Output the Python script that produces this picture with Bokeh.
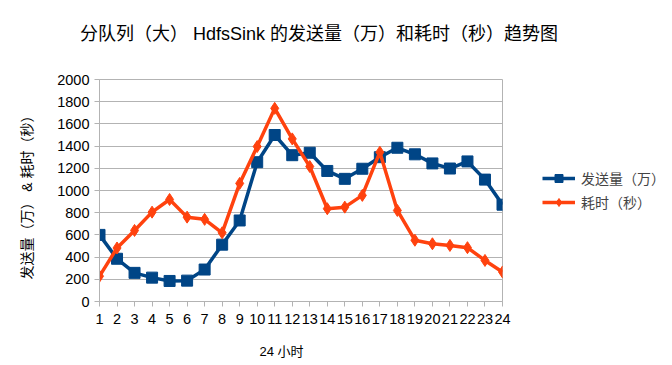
from bokeh.plotting import figure
from bokeh.models import (ColumnDataSource, Range1d, FixedTicker, Legend, LegendItem, LinearAxis)
from bokeh.embed import file_html
from bokeh.resources import INLINE

hours = list(range(1, 25))
send_volume = [600, 385, 258, 215, 185, 188, 288, 512, 730, 1255, 1500, 1318, 1340, 1176,
               1105, 1196, 1300, 1385, 1326, 1244, 1198, 1262, 1098, 872]
time_cost = [228, 482, 640, 805, 919, 760, 740, 619, 1064, 1396, 1740, 1465, 1216, 836,
             850, 956, 1345, 820, 552, 520, 505, 485, 370, 266]
series_names = ["发送量（万）", "耗时（秒）"]
y_ticks = list(range(0, 2001, 200))

FONT = "Liberation Sans, Noto Sans CJK SC"
BLUE = "#004586"
ORANGE = "#ff420e"
GRID = "#b3b3b3"

src = ColumnDataSource(dict(x=hours, a=send_volume, b=time_cost))

p = figure(width=670, height=362, output_backend="svg", toolbar_location=None,
           x_range=Range1d(1, 24), y_range=Range1d(0, 2000),
           frame_width=403, frame_height=222,
           min_border_left=99, min_border_top=79, min_border_right=168, min_border_bottom=61)
p.outline_line_color = GRID
p.background_fill_color = "white"
p.border_fill_color = "white"

p.xaxis.ticker = FixedTicker(ticks=hours)
p.yaxis.ticker = FixedTicker(ticks=y_ticks)
for ax in (p.xaxis, p.yaxis):
    ax.axis_line_color = GRID
    ax.major_tick_line_color = GRID
    ax.minor_tick_line_color = None
    ax.major_tick_in = 0
    ax.major_tick_out = 5
    ax.major_label_text_font = FONT
    ax.major_label_text_font_size = "14.5px"
    ax.major_label_text_color = "black"
    ax.axis_label_text_font = FONT
    ax.axis_label_text_font_style = "normal"
    ax.axis_label_text_color = "black"
p.xaxis.major_label_standoff = 7
p.yaxis.major_label_standoff = 5
p.yaxis.axis_label = "发送量（万） & 耗时（秒）\u3000"
p.yaxis.axis_label_text_font_size = "14px"
p.yaxis.axis_label_standoff = 19
p.xaxis.axis_label = "24 小时\u3000\u3000\u3000"
p.xaxis.axis_label_text_font_size = "13px"
p.xaxis.axis_label_standoff = 17
p.xgrid.grid_line_color = None
p.ygrid.grid_line_color = GRID
p.ygrid.grid_line_width = 1

# chart title, drawn as the label of a bare axis above the plot
title_axis = LinearAxis(ticker=FixedTicker(ticks=[]), axis_line_color=None,
                        major_tick_line_color=None, minor_tick_line_color=None,
                        major_label_text_font_size="0px",
                        axis_label="\u3000\u3000分队列（大） HdfsSink 的发送量（万）和耗时（秒）趋势图",
                        axis_label_text_font=FONT, axis_label_text_font_size="18px",
                        axis_label_text_font_style="normal", axis_label_text_color="black",
                        axis_label_standoff=36)
p.add_layout(title_axis, "above")

r1 = p.line("x", "a", source=src, color=BLUE, line_width=3.5)
m1 = p.scatter("x", "a", source=src, marker="square", size=11, color=BLUE)
r2 = p.line("x", "b", source=src, color=ORANGE, line_width=3.5)
m2 = p.scatter("x", "b", source=src, marker="diamond", size=12, color=ORANGE)

legend = Legend(items=[LegendItem(label=series_names[0], renderers=[r1, m1]),
                       LegendItem(label=series_names[1], renderers=[r2, m2])],
                location="center_left", border_line_color=None, background_fill_alpha=0,
                label_text_font=FONT, label_text_font_size="14px",
                glyph_width=33, spacing=4, padding=4, margin=40, label_standoff=6)
p.add_layout(legend, "right")

open("out.html", "w").write(file_html(p, INLINE))
